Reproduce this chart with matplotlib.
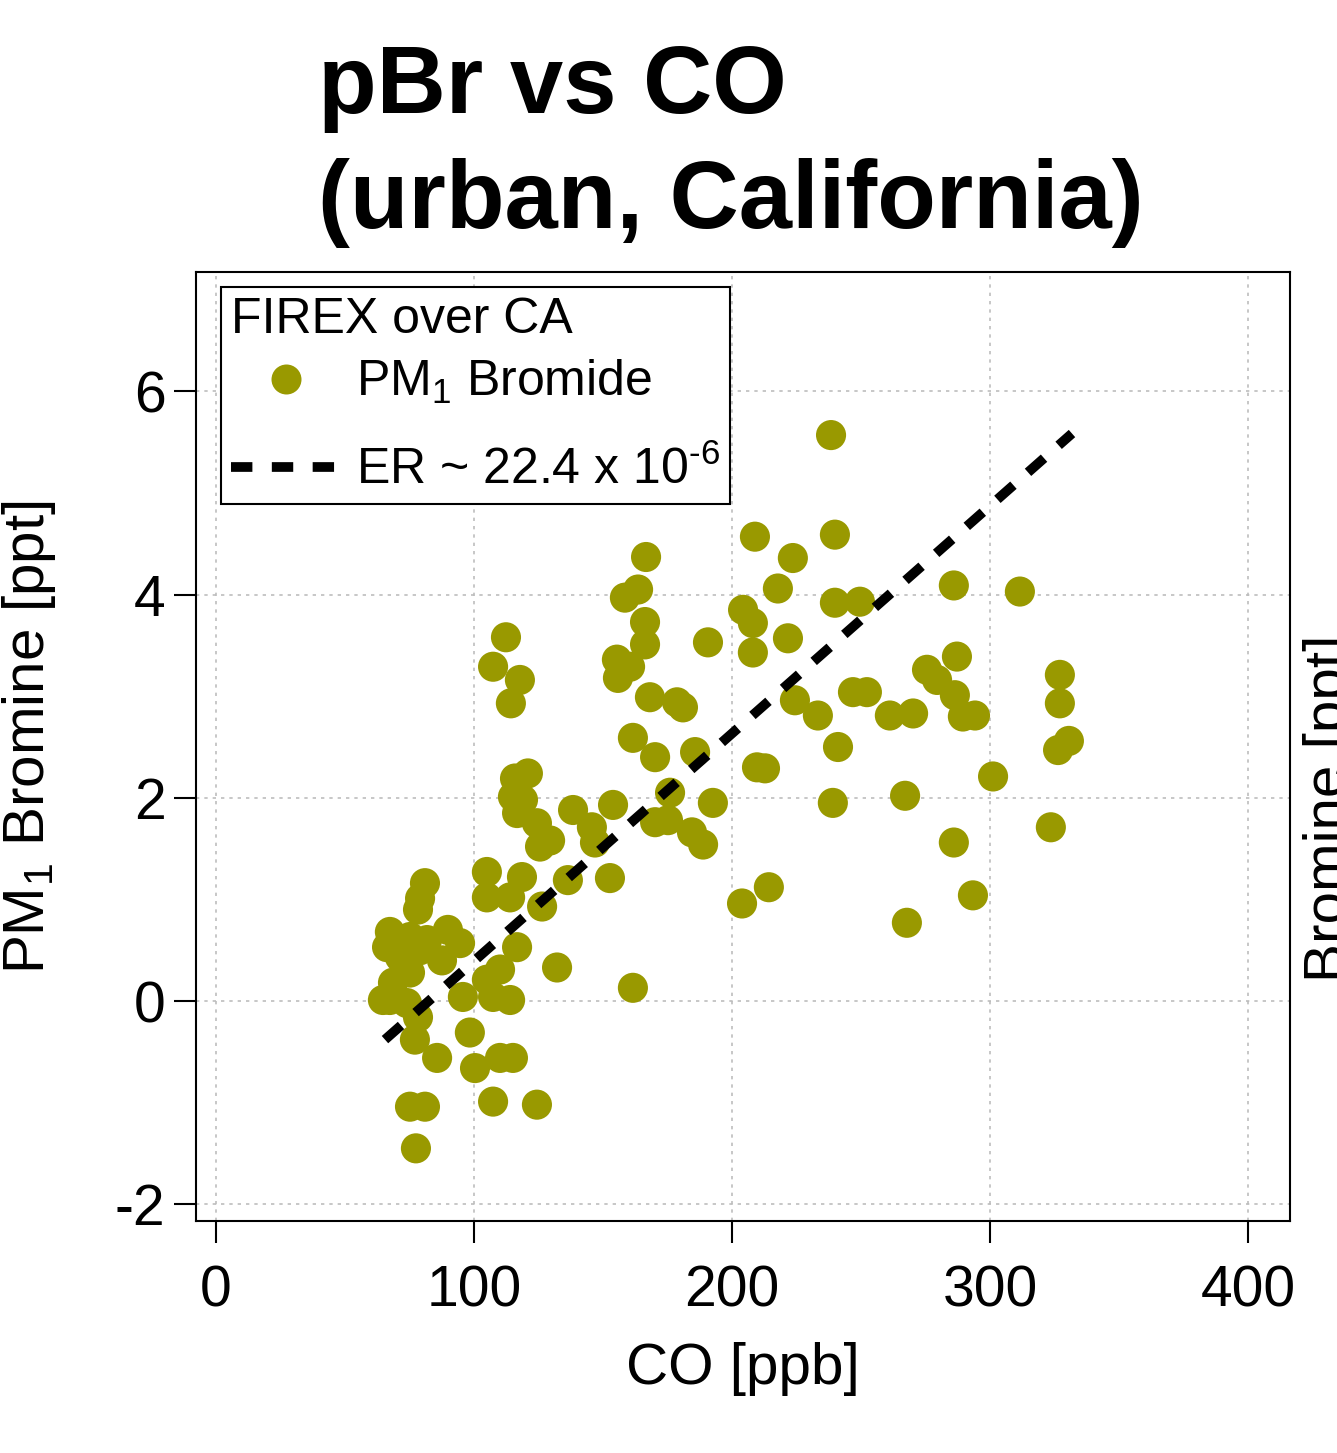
import matplotlib
matplotlib.use("Agg")
import matplotlib.pyplot as plt
from matplotlib.lines import Line2D
import numpy as np

plt.rcParams['font.family'] = ['Liberation Sans', 'DejaVu Sans']
plt.rcParams['mathtext.fontset'] = 'custom'
plt.rcParams['mathtext.rm'] = 'Liberation Sans'
plt.rcParams['mathtext.it'] = 'Liberation Sans:italic'
plt.rcParams['mathtext.bf'] = 'Liberation Sans:bold'
plt.rcParams['axes.unicode_minus'] = False

# ---------------- data ----------------
co_ppb = [
    166.7, 158.5, 163.6, 166.3, 166.3, 155.4, 160.5, 155.8, 190.7, 168.2,
    178.7, 181.0, 161.6, 170.2, 185.7, 176.0, 153.9, 192.6, 170.2, 175.2,
    184.5, 188.8, 152.7, 208.9, 239.9, 223.6, 217.8, 204.3, 208.1, 208.1,
    221.7, 239.9, 249.6, 224.4, 233.3, 246.9, 252.3, 241.1, 209.7, 212.8,
    239.1, 203.9, 214.3, 238.4, 112.4, 107.4, 117.8, 114.3, 120.9, 115.9,
    115.1, 119.0, 116.7, 124.4, 129.5, 125.6, 138.4, 145.7, 146.9, 105.0,
    118.6, 136.4, 81.0, 79.1, 78.3, 67.4, 89.9, 66.3, 94.6, 75.2,
    81.8, 79.1, 87.6, 71.3, 68.6, 75.2, 67.4, 74.0, 78.3, 77.1,
    95.7, 105.0, 107.4, 114.0, 116.7, 105.0, 114.0, 126.4, 132.2, 98.4,
    110.1, 64.7, 85.7, 100.4, 110.1, 115.1, 75.2, 81.0, 77.5, 107.4,
    124.4, 161.6, 286.0, 311.6, 287.2, 275.6, 279.5, 286.4, 289.5, 294.2,
    261.2, 270.2, 327.1, 327.1, 326.4, 330.6, 301.2, 267.1, 323.6, 286.0,
    293.4, 267.8,
]
pbr_ppt = [
    4.37, 3.97, 4.05, 3.73, 3.51, 3.36, 3.29, 3.18, 3.53, 2.99,
    2.94, 2.89, 2.59, 2.40, 2.45, 2.05, 1.93, 1.95, 1.76, 1.78,
    1.66, 1.54, 1.21, 4.57, 4.59, 4.36, 4.06, 3.85, 3.72, 3.43,
    3.57, 3.92, 3.93, 2.96, 2.81, 3.04, 3.04, 2.50, 2.30, 2.29,
    1.95, 0.96, 1.12, 5.57, 3.58, 3.29, 3.16, 2.93, 2.24, 2.19,
    2.01, 1.98, 1.85, 1.75, 1.58, 1.52, 1.88, 1.71, 1.56, 1.27,
    1.22, 1.19, 1.16, 1.01, 0.90, 0.68, 0.70, 0.53, 0.57, 0.63,
    0.60, 0.50, 0.40, 0.43, 0.18, 0.28, 0.01, -0.02, -0.16, -0.38,
    0.04, 0.21, 0.04, 0.01, 0.53, 1.02, 1.02, 0.93, 0.33, -0.31,
    0.31, 0.01, -0.56, -0.66, -0.56, -0.56, -1.04, -1.04, -1.45, -0.99,
    -1.02, 0.13, 4.09, 4.03, 3.39, 3.26, 3.16, 3.01, 2.80, 2.81,
    2.81, 2.83, 3.21, 2.93, 2.47, 2.56, 2.21, 2.02, 1.71, 1.56,
    1.04, 0.77,
]
er_slope = 0.0224        # ppt per ppb
er_intercept = -1.847    # ppt
er_x_range = [65.5, 331.8]

x_ticks = [0, 100, 200, 300, 400]
y_ticks = [-2, 0, 2, 4, 6]

title_line1 = "pBr vs CO"
title_line2 = "(urban, California)"
legend_title = "FIREX over CA"
label_points = "PM$_1$ Bromide"
label_line = "ER ~ 22.4 x 10$^{\\text{-6}}$"

olive = "#999900"

# ---------------- figure ----------------
W, H = 1337, 1453
fig = plt.figure(figsize=(W / 100, H / 100), dpi=100)
ax = fig.add_axes([196 / W, 1 - 1221 / H, (1290 - 196) / W, (1221 - 272) / H])

ax.set_xlim(-7.75, 416.3)
ax.set_ylim(-2.165, 7.175)
ax.set_xticks(x_ticks)
ax.set_yticks(y_ticks)

ax.grid(True, color="#bdbdbd", linestyle=(0, (2, 3)), linewidth=1.2, zorder=0)
ax.set_axisbelow(True)

ax.scatter(co_ppb, pbr_ppt, s=470, color=olive, edgecolors="none", zorder=2)

xl = np.array(er_x_range)
ax.plot(xl, er_slope * xl + er_intercept, color="black", linewidth=7,
        linestyle=(0, (2.2, 2.0)), dash_capstyle="butt", solid_capstyle="butt",
        zorder=3)

for s in ax.spines.values():
    s.set_linewidth(1.5)
    s.set_color("black")

ax.tick_params(axis="both", direction="out", length=16, width=1.5,
               labelsize=41, colors="black")
ax.tick_params(axis="x", pad=15)
ax.tick_params(axis="y", pad=6)

ax.set_xlabel("CO [ppb]", fontsize=42, labelpad=17)
ax.set_ylabel("PM$_1$ Bromine [ppt]", fontsize=42)
ax.yaxis.set_label_coords((58 - 196) / 1094, (1221 - 737) / 949)

fig.text(1303 / W, 1 - 982 / H, "Bromine [ppt]", rotation=90, fontsize=42,
         ha="left", va="bottom")

fig.text(318 / W, 1 - 113 / H, title_line1, fontsize=69, fontweight="bold",
         ha="left", va="baseline")
fig.text(318 / W, 1 - 228 / H, title_line2, fontsize=69, fontweight="bold",
         ha="left", va="baseline")

handles = [
    Line2D([], [], linestyle="none", marker="o", markersize=21.6,
           markerfacecolor=olive, markeredgecolor="none"),
    Line2D([], [], color="black", linewidth=7, linestyle=(0, (2.2, 2.0)),
           dash_capstyle="butt"),
]
leg = ax.legend(handles, [label_points, label_line], title=legend_title,
                loc="upper left",
                bbox_to_anchor=((221 - 196) / 1094, (1221 - 287) / 949),
                borderaxespad=0, fontsize=36, title_fontsize=36,
                frameon=True, fancybox=False, framealpha=1,
                edgecolor="black", handlelength=2.2, handletextpad=0.3,
                labelspacing=0.8, borderpad=0.2, alignment="left")
leg.get_frame().set_linewidth(1.5)
# tighter gap between the legend title and its entries
leg._legend_box.sep = 10.8

fig.savefig("out.png", dpi=100)
